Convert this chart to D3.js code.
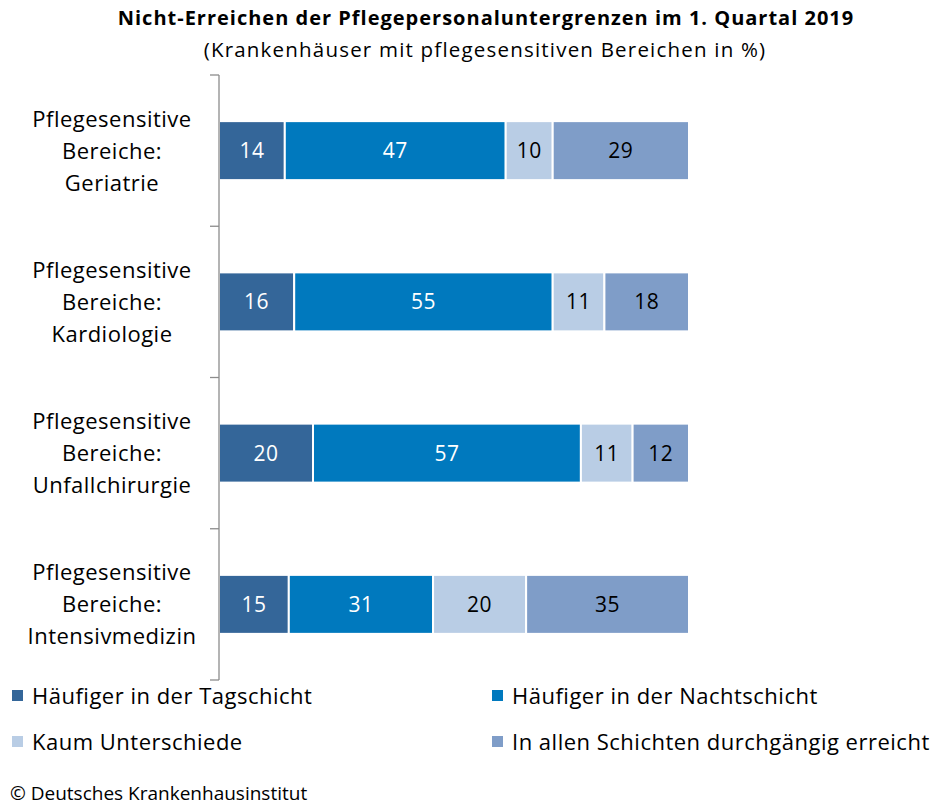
<!DOCTYPE html>
<html>
<head>
<meta charset="utf-8">
<script src="https://cdn.jsdelivr.net/npm/d3@7"></script>
<style>
  body { margin: 0; background: #fff; }
  svg { display: block; font-family: "Open Sans", Lato, sans-serif; }
</style>
</head>
<body>
<svg id="chart" width="933" height="805"></svg>
<script>
// data
const categories = ["Geriatrie", "Kardiologie", "Unfallchirurgie", "Intensivmedizin"];
const series = ["Häufiger in der Tagschicht", "Häufiger in der Nachtschicht", "Kaum Unterschiede", "In allen Schichten durchgängig erreicht"];
const tagschicht = [14, 16, 20, 15];
const nachtschicht = [47, 55, 57, 31];
const kaum = [10, 11, 11, 20];
const durchgaengig = [29, 18, 12, 35];

const colors = ["#346699", "#0079BE", "#B9CDE5", "#7F9DC8"];
const textColors = ["#fff", "#fff", "#000", "#000"];

const svg = d3.select("#chart");
const margin = { left: 219, right: 244, top: 75, bottom: 125 };
const W = 933, H = 805;

// 100% stacked rows, like Excel
const rows = categories.map((c, i) => {
  const vals = [tagschicht[i], nachtschicht[i], kaum[i], durchgaengig[i]];
  const sum = d3.sum(vals);
  let acc = 0;
  return vals.map((v, k) => {
    const seg = { cat: c, k, v, x0: acc / sum, x1: (acc + v) / sum };
    acc += v;
    return seg;
  });
});

const x = d3.scaleLinear().domain([0, 1]).range([margin.left, W - margin.right]);
const y = d3.scaleBand().domain(categories).range([margin.top, H - margin.bottom])
  .paddingInner(0.61).paddingOuter(0.305);

// title
svg.append("text").attr("x", 486).attr("y", 25).attr("text-anchor", "middle")
  .attr("font-size", 20).attr("font-weight", "bold").attr("letter-spacing", 1).attr("fill", "#000")
  .text("Nicht-Erreichen der Pflegepersonaluntergrenzen im 1. Quartal 2019");
svg.append("text").attr("x", 485).attr("y", 57).attr("text-anchor", "middle")
  .attr("font-size", 20.5).attr("letter-spacing", 1.2).attr("fill", "#000")
  .text("(Krankenhäuser mit pflegesensitiven Bereichen in %)");

// bars
const g = svg.append("g");
g.selectAll("g.row").data(rows).join("g").attr("class", "row")
  .each(function (segs) {
    const r = d3.select(this);
    r.selectAll("rect").data(segs).join("rect")
      .attr("x", d => x(d.x0))
      .attr("y", d => y(d.cat))
      .attr("width", d => x(d.x1) - x(d.x0))
      .attr("height", y.bandwidth())
      .attr("fill", d => colors[d.k])
      .attr("stroke", "#fff").attr("stroke-width", 2);
    r.selectAll("text").data(segs).join("text")
      .attr("x", d => (x(d.x0) + x(d.x1)) / 2)
      .attr("y", d => y(d.cat) + y.bandwidth() / 2)
      .attr("dy", "0.36em")
      .attr("text-anchor", "middle")
      .attr("font-size", 21)
      .attr("letter-spacing", 0.5)
      .attr("fill", d => textColors[d.k])
      .text(d => d.v);
  });

// category axis with ticks between the bands
const axis = svg.append("g").attr("stroke", "#8c8c8c").attr("stroke-width", 1.3);
axis.append("line").attr("x1", margin.left).attr("x2", margin.left)
  .attr("y1", margin.top).attr("y2", H - margin.bottom);
const bounds = d3.range(categories.length + 1).map(i => margin.top + i * y.step());
axis.selectAll("line.tick").data(bounds).join("line").attr("class", "tick")
  .attr("x1", margin.left - 9).attr("x2", margin.left).attr("y1", d => d).attr("y2", d => d);

// category labels
const lab = svg.append("g").attr("font-size", 22).attr("letter-spacing", 0.5)
  .attr("fill", "#000").attr("text-anchor", "middle");
categories.forEach(c => {
  const cy = y(c) + y.bandwidth() / 2;
  ["Pflegesensitive", "Bereiche:", c].forEach((t, j) => {
    lab.append("text").attr("x", 112).attr("y", cy + (j - 1) * 32).attr("dy", "0.36em").text(t);
  });
});

// legend
const legPos = [[12, 696], [492, 696], [12, 742], [492, 742]];
const leg = svg.append("g").selectAll("g").data(series).join("g")
  .attr("transform", (d, i) => `translate(${legPos[i][0]},${legPos[i][1]})`);
leg.append("rect").attr("x", 0).attr("y", -6).attr("width", 11).attr("height", 11)
  .attr("fill", (d, i) => colors[i]);
leg.append("text").attr("x", 20).attr("dy", "0.36em").attr("font-size", 22)
  .attr("letter-spacing", 0.5).attr("fill", "#000").text(d => d);

// source
svg.append("text").attr("x", 10).attr("y", 800).attr("font-size", 19).attr("fill", "#000")
  .text("© Deutsches Krankenhausinstitut");
</script>
</body>
</html>
